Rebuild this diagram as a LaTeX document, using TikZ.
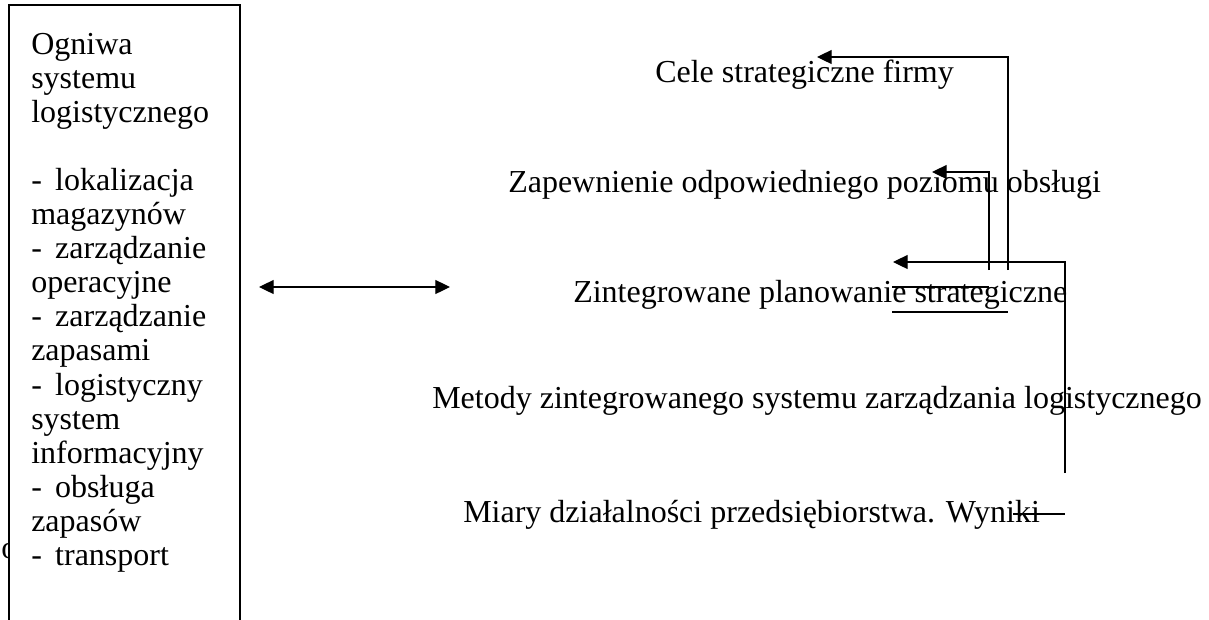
\documentclass[tikz,border=0pt]{standalone}
\usepackage{fontspec}
\setmainfont{Liberation Serif}
\usetikzlibrary{arrows.meta}
% list entry: a dash followed by the item, aligned at a fixed indent
\newcommand\listitem[1]{\makebox[18pt][l]{-}#1}
\begin{document}
\begin{tikzpicture}[x=0.75pt,y=-0.75pt,
  txt/.style={anchor=base west, inner sep=0pt, font=\fontsize{24}{25.6}\selectfont},
  frame/.style={line width=1pt, fill=white},
  link/.style={line width=0.9pt, -{Triangle[length=11pt,width=10.5pt]}},
  both/.style={line width=0.9pt, {Triangle[length=11pt,width=10.5pt]}-{Triangle[length=11pt,width=10.5pt]}},
  rule/.style={line width=0.9pt}]
\useasboundingbox (0,0) rectangle (1209,619);
\clip (0,0) rectangle (1209,619);

% glyph partly hidden behind the panel
\node[txt] (stray) at (1,558) {o};

% left panel, open at the bottom
\draw[frame] (9,660) |- (240,5) -- (240,660);
\foreach \t [count=\i from 0] in {Ogniwa, systemu, logistycznego, {},
    {\listitem{lokalizacja}}, magazynów, {\listitem{zarządzanie}}, operacyjne,
    {\listitem{zarządzanie}}, zapasami, {\listitem{logistyczny}}, system,
    informacyjny, {\listitem{obsługa}}, zapasów, {\listitem{transport}}}
  \node[txt] (line\i) at (31,{54+34.1*\i}) {\t};

% double arrow between the panel and the hierarchy
\coordinate (pairL) at (259,287);
\coordinate (pairR) at (450,287);
\draw[both] (pairL) -- (pairR);

% hierarchy of levels
\node[txt] (goal)     at (655,82)  {Cele strategiczne firmy};
\node[txt] (service)  at (508,192) {Zapewnienie odpowiedniego poziomu obsługi};
\node[txt] (planning) at (573,302) {Zintegrowane planowanie strategiczne};
\node[txt] (methods)  at (432,408) {Metody zintegrowanego systemu zarządzania logistycznego};
\node[txt] (measures) at (463,522) {Miary działalności przedsiębiorstwa. Wyniki};

% feedback connectors
\coordinate (goalfrom) at (1008,270);
\coordinate (goalto)   at (817,57);
\coordinate (servfrom) at (989,270);
\coordinate (servto)   at (932,172);
\coordinate (planfrom) at (1065,473);
\coordinate (planto)   at (893,262);
\draw[link] (goalfrom) |- (goalto);
\draw[link] (servfrom) |- (servto);
\draw[link] (planfrom) |- (planto);

% short rules under and beside the labels
\coordinate (ruleAa) at (892,287);
\coordinate (ruleAb) at (989,287);
\coordinate (ruleBa) at (892,312);
\coordinate (ruleBb) at (1008,312);
\coordinate (ruleCa) at (1013,514);
\coordinate (ruleCb) at (1065,514);
\draw[rule] (ruleAa) -- (ruleAb);
\draw[rule] (ruleBa) -- (ruleBb);
\draw[rule] (ruleCa) -- (ruleCb);
\end{tikzpicture}
\end{document}
